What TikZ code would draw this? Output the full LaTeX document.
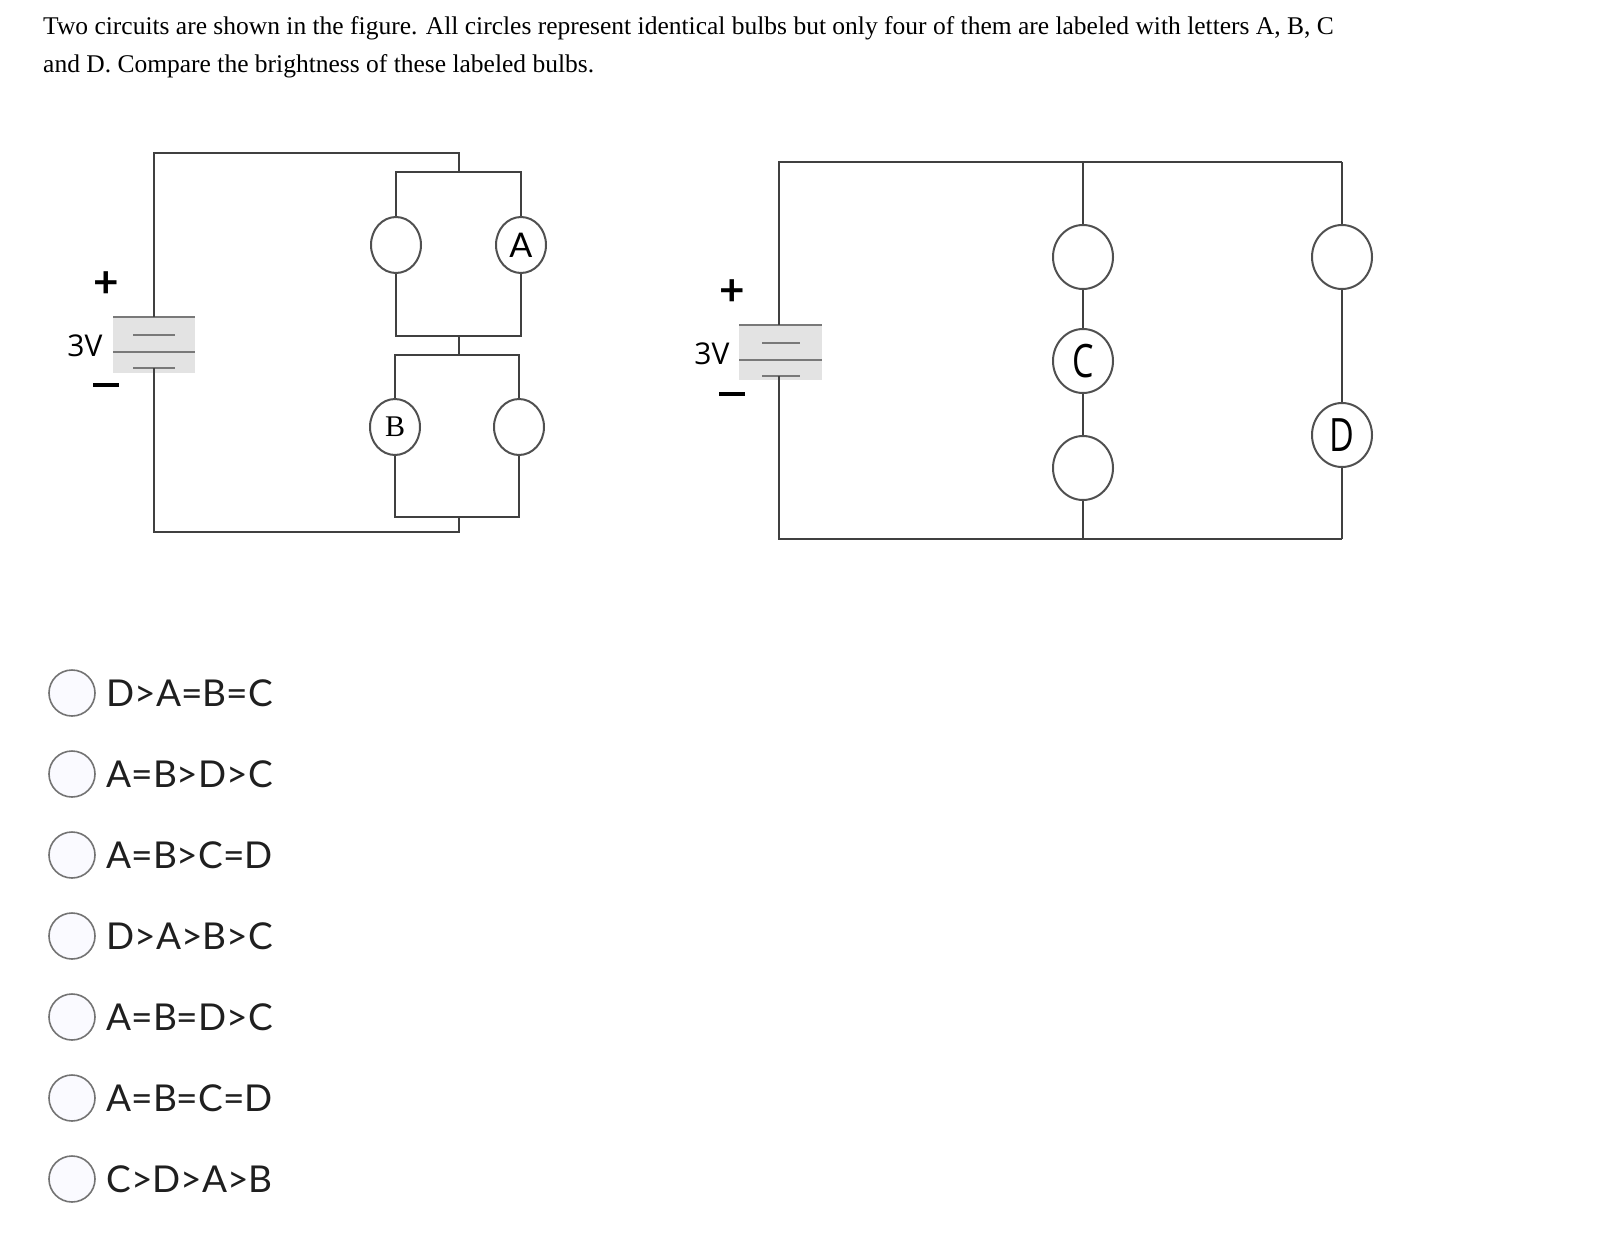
\documentclass[tikz,border=0pt]{standalone}
\usepackage{fontspec}
\setmainfont{Liberation Serif}
\setsansfont{Lato}
\newfontfamily\opensans{Open Sans}
\usetikzlibrary{shapes.geometric}
\definecolor{wire}{HTML}{404040}
\definecolor{bulbc}{HTML}{505050}
\tikzset{
  wr/.style={draw=wire,line width=2pt},
  bulbS/.style={ellipse,draw=bulbc,line width=2pt,fill=white,minimum width=50pt,minimum height=56pt,inner sep=0pt},
  bulbL/.style={ellipse,draw=bulbc,line width=2pt,fill=white,minimum width=60pt,minimum height=64pt,inner sep=0pt},
  plate/.style={draw=wire!70,line width=2pt},
  radio/.style={circle,draw=gray!90!black,line width=1.6pt,fill=blue!2,minimum size=46pt,inner sep=0pt},
  opt/.style={anchor=west,font=\sffamily\fontsize{37}{40}\selectfont,text=black!88},
  sign/.style={font=\sffamily\fontsize{44}{44}\selectfont\bfseries}
}
\begin{document}
\begin{tikzpicture}[x=1pt,y=-1pt]
\useasboundingbox (0,0) rectangle (1606,1236);
% title
\node[anchor=base west,inner sep=0,font=\fontsize{25.5}{30}\selectfont] (t1) at (43,35) {Two circuits are shown in the figure. All circles represent identical bulbs but only four of them are labeled with letters A, B, C};
\node[anchor=base west,inner sep=0,font=\fontsize{25.5}{30}\selectfont] (t2) at (43,73) {and D. Compare the brightness of these labeled bulbs.};

% ---------- left circuit
\fill[gray!22] (113,317) rectangle (195,373);
\draw[plate] (113,317) -- (195,317);
\draw[plate] (113,352) -- (195,352);
\draw[plate] (133,335) -- (175,335);
\draw[plate] (133,368) -- (175,368);
\coordinate (Lp) at (154,317);
\coordinate (Ln) at (154,368);
\coordinate (Ltl) at (154,153);
\coordinate (Lbl) at (154,532);
\coordinate (Ltr) at (459,153);
\coordinate (Lbr) at (459,532);
\coordinate (Ut) at (459,172);
\coordinate (Ub) at (459,336);
\coordinate (Wt) at (459,355);
\coordinate (Wb) at (459,517);
\draw[wr] (Lp) -- (Ltl) -- (Ltr) -- (Ut);
\draw[wr] (Ln) -- (Lbl) -- (Lbr) -- (Wb);
\draw[wr] (Ub) -- (Wt);
\draw[wr] (396,172) rectangle (521,336);
\draw[wr] (395,355) rectangle (519,517);
\node[bulbS] (u1) at (396,245) {};
\node[bulbS,font=\sffamily\fontsize{34}{34}\selectfont] (A) at (521,245) {A};
\node[bulbS,font=\fontsize{30}{30}\selectfont] (B) at (395,427) {B};
\node[bulbS] (w2) at (519,427) {};
\node[sign] (lplus) at (106,285) {+};
\node[sign] (lminus) at (106,385) {\rule{26pt}{4pt}};
\node[font=\opensans\fontsize{30}{30}\selectfont,anchor=east] (l3v) at (106,346) {3V};

% ---------- right circuit
\fill[gray!22] (739,325) rectangle (822,380);
\draw[plate] (739,325) -- (822,325);
\draw[plate] (739,360) -- (822,360);
\draw[plate] (762,343) -- (800,343);
\draw[plate] (762,376) -- (800,376);
\coordinate (Rp) at (779,325);
\coordinate (Rn) at (779,376);
\coordinate (Rtl) at (779,162);
\coordinate (Rbl) at (779,539);
\coordinate (Rtm) at (1083,162);
\coordinate (Rbm) at (1083,539);
\coordinate (Rtr) at (1342,162);
\coordinate (Rbr) at (1342,539);
\draw[wr] (Rp) -- (Rtl) -- (Rtr);
\draw[wr] (Rn) -- (Rbl) -- (Rbr);
\draw[wr] (Rtm) -- (Rbm);
\draw[wr] (Rtr) -- (Rbr);
\node[bulbL] (c1) at (1083,257) {};
\node[bulbL,font=\opensans\fontsize{40}{40}\selectfont] (C) at (1083,361) {\scalebox{0.85}[1.15]{C}};
\node[bulbL] (c3) at (1083,468) {};
\node[bulbL] (d1) at (1342,257) {};
\node[bulbL,font=\opensans\fontsize{40}{40}\selectfont] (D) at (1342,435) {\scalebox{0.85}[1.15]{D}};
\node[sign] (rplus) at (732,293) {+};
\node[sign] (rminus) at (732,394) {\rule{26pt}{4pt}};
\node[font=\opensans\fontsize{30}{30}\selectfont,anchor=east] (r3v) at (733,354) {3V};

% ---------- options
\foreach \i/\t in {0/D>A=B=C,1/A=B>D>C,2/A=B>C=D,3/D>A>B>C,4/A=B=D>C,5/A=B=C=D,6/C>D>A>B}{
  \node[radio] (r\i) at (72,693+81*\i) {};
  \node[opt] (o\i) at (103,693+81*\i) {\t};
}
\end{tikzpicture}
\end{document}
